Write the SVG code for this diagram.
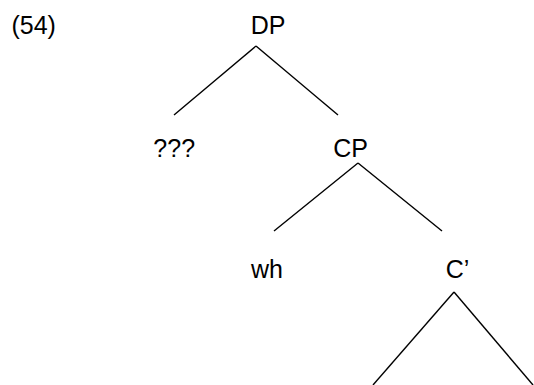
<svg xmlns="http://www.w3.org/2000/svg" width="534" height="385" viewBox="0 0 534 385">
<style>
text{font-family:"Liberation Sans",Arial,sans-serif;font-size:25px;fill:#000;text-anchor:middle}
.e{stroke:#000;stroke-width:1.4;fill:none}
</style>
<rect width="534" height="385" fill="#fff"/>
<text id="label" x="33.7" y="34.3">(54)</text>
<g id="dp"><text x="268" y="34.3">DP</text></g>
<g id="q"><text x="174.2" y="156.5">???</text></g>
<g id="cp"><text x="350.5" y="156.5">CP</text></g>
<g id="wh"><text x="267" y="278.3">wh</text></g>
<g id="cbar"><text x="457.5" y="278.3">C’</text></g>
<g id="edges" class="e">
<line x1="256" y1="46" x2="174" y2="115"/>
<line x1="256" y1="46" x2="338" y2="115"/>
<line x1="358" y1="163" x2="274" y2="231"/>
<line x1="358" y1="163" x2="442" y2="231"/>
<line x1="454" y1="292" x2="373" y2="385"/>
<line x1="454" y1="292" x2="533" y2="385"/>
</g>
</svg>
